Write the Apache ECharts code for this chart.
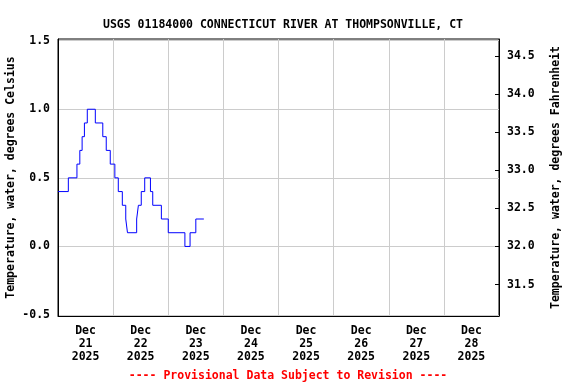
<!DOCTYPE html>
<html>
<head>
<meta charset="utf-8">
<script src="https://cdn.jsdelivr.net/npm/echarts@6/dist/echarts.min.js"></script>
<style>
html,body{margin:0;padding:0;background:#fff;}
#chart{width:576px;height:384px;}
</style>
</head>
<body>
<div id="chart"></div>
<script>
// Times at which the reading changed, and the reading from that time on (deg C)
var changeTimes = [
  '2025-12-21 00:00','2025-12-21 04:30','2025-12-21 08:15','2025-12-21 09:30',
  '2025-12-21 10:30','2025-12-21 11:30','2025-12-21 12:45','2025-12-21 16:15',
  '2025-12-21 19:30','2025-12-21 21:00','2025-12-21 22:45','2025-12-22 00:45',
  '2025-12-22 02:15','2025-12-22 04:00','2025-12-22 05:30','2025-12-22 06:15',
  '2025-12-22 10:15','2025-12-22 11:00','2025-12-22 12:15','2025-12-22 13:45',
  '2025-12-22 16:15','2025-12-22 17:15','2025-12-22 21:00','2025-12-23 00:00',
  '2025-12-23 07:15','2025-12-23 09:30','2025-12-23 12:00','2025-12-23 15:30'
];
var tempC = [
  0.4,0.5,0.6,0.7,
  0.8,0.9,1.0,0.9,
  0.8,0.7,0.6,0.5,
  0.4,0.3,0.2,0.1,
  0.2,0.3,0.4,0.5,
  0.4,0.3,0.2,0.1,
  0.0,0.1,0.2,0.2
];
var dayLabels = ['Dec\n21\n2025','Dec\n22\n2025','Dec\n23\n2025','Dec\n24\n2025',
                 'Dec\n25\n2025','Dec\n26\n2025','Dec\n27\n2025','Dec\n28\n2025'];
var celsiusTicks = [-0.5, 0.0, 0.5, 1.0, 1.5];
var fahrenheitTicks = [31.5, 32.0, 32.5, 33.0, 33.5, 34.0, 34.5];

var cMin = -0.507, cMax = 1.512;
var fMin = cMin * 1.8 + 32, fMax = cMax * 1.8 + 32;

var FONT = 'DejaVu Sans Mono';
var chart = echarts.init(document.getElementById('chart'), null, {renderer: 'canvas'});
var seriesData = changeTimes.map(function (t, i) { return [t, tempC[i]]; });

chart.setOption({
  animation: false,
  backgroundColor: '#ffffff',
  title: {
    text: 'USGS 01184000 CONNECTICUT RIVER AT THOMPSONVILLE, CT',
    left: 278, top: 14, textAlign: 'center',
    textStyle: {fontFamily: FONT, fontWeight: 'bold', fontSize: 11.5, color: '#000'}
  },
  graphic: [{
    type: 'text', left: 'center', top: 370,
    style: {text: '---- Provisional Data Subject to Revision ----',
            fill: '#ff0000', font: 'bold 11.5px "DejaVu Sans Mono"'}
  }],
  grid: {left: 58, right: 77, top: 39, bottom: 68, show: true,
         outerBoundsMode: 'none', containLabel: false,
         borderColor: '#000', borderWidth: 1, backgroundColor: 'transparent'},
  xAxis: [{
    type: 'time',
    min: '2025-12-21 00:00', max: '2025-12-29 00:00',
    minInterval: 86400000, maxInterval: 86400000,
    axisLine: {show: true, onZero: false, lineStyle: {color: '#000', width: 1}},
    axisTick: {show: false},
    axisLabel: {show: false},
    splitLine: {show: true, lineStyle: {color: '#cccccc', width: 1}}
  }, {
    type: 'category', data: dayLabels, boundaryGap: true, position: 'bottom',
    axisLine: {show: false, onZero: false}, axisTick: {show: false}, splitLine: {show: false},
    axisLabel: {show: true, interval: 0, margin: 9, lineHeight: 13,
                fontFamily: FONT, fontWeight: 'bold', fontSize: 11.5, color: '#000'}
  }],
  yAxis: [{
    type: 'value', position: 'left', min: cMin, max: cMax,
    name: 'Temperature, water, degrees Celsius',
    nameLocation: 'middle', nameRotate: 90, nameGap: 41, nameMoveOverlap: false,
    nameTextStyle: {fontFamily: FONT, fontWeight: 'bold', fontSize: 11.5, color: '#000',
                    padding: [0, 0, 0, 0]},
    axisLine: {show: true, onZero: false, lineStyle: {color: '#000'}},
    axisTick: {show: false, customValues: celsiusTicks},
    axisLabel: {customValues: celsiusTicks, margin: 8,
                formatter: function (v) { return v.toFixed(1); },
                fontFamily: FONT, fontWeight: 'bold', fontSize: 11.5, color: '#000'},
    splitLine: {show: true, customValues: celsiusTicks, lineStyle: {color: '#cccccc', width: 1}}
  }, {
    type: 'value', position: 'right', min: fMin, max: fMax,
    name: 'Temperature, water, degrees Fahrenheit',
    nameLocation: 'middle', nameRotate: 90, nameGap: 51, nameMoveOverlap: false,
    nameTextStyle: {fontFamily: FONT, fontWeight: 'bold', fontSize: 11.5, color: '#000'},
    axisLine: {show: true, onZero: false, lineStyle: {color: '#000'}},
    axisTick: {show: true, inside: true, length: 4, customValues: fahrenheitTicks,
               lineStyle: {color: '#000'}},
    axisLabel: {customValues: fahrenheitTicks, margin: 8,
                formatter: function (v) { return v.toFixed(1); },
                fontFamily: FONT, fontWeight: 'bold', fontSize: 11.5, color: '#000'},
    splitLine: {show: false}
  }],
  series: [{
    type: 'line', xAxisIndex: 0, yAxisIndex: 0, step: 'end',
    showSymbol: false, data: seriesData,
    lineStyle: {color: '#0000ff', width: 1}
  }]
});
</script>
</body>
</html>
